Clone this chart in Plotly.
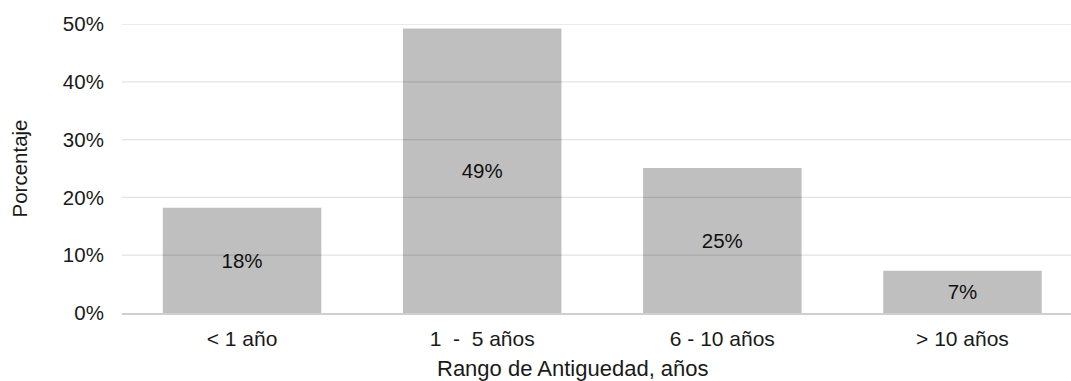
import plotly.graph_objects as go

# Distribución por rango de antigüedad
categorias = ["< 1 año", "1 \u00a0- \u00a05 años", "6 - 10 años", "> 10 años"]
porcentajes = [18.2, 49.2, 25.1, 7.3]
ticks_y = [0, 10, 20, 30, 40, 50]
ticks_y_texto = ["0%", "10%", "20%", "30%", "40%", "50%"]

FUENTE = "Arial, Liberation Sans, sans-serif"
TAM = 21
COLOR_TEXTO = "#1a1a1a"

fig = go.Figure(
    go.Bar(
        x=categorias,
        y=porcentajes,
        width=0.66,
        marker=dict(color="#bfbfbf", line=dict(width=0)),
        texttemplate="%{y:.0f}%",
        textposition="inside",
        insidetextanchor="middle",
        textangle=0,
        textfont=dict(family=FUENTE, size=20.5, color="#111111"),
        hoverinfo="skip",
    )
)

# Líneas de cuadrícula dibujadas sobre las barras
for v in ticks_y[1:]:
    fig.add_shape(
        type="line", xref="paper", yref="y",
        x0=0, x1=1, y0=v, y1=v,
        line=dict(color="rgba(0,0,0,0.11)", width=1.3),
        layer="above",
    )

fig.update_layout(
    width=1071,
    height=381,
    margin=dict(l=122, r=0, t=24, b=68),
    paper_bgcolor="white",
    plot_bgcolor="white",
    showlegend=False,
    font=dict(family=FUENTE, size=TAM, color=COLOR_TEXTO),
    xaxis=dict(
        type="category",
        range=[-0.5, 3.452],
        showgrid=False,
        showline=True,
        linecolor="#cfcfcf",
        linewidth=1.5,
        ticks="outside",
        ticklen=6,
        tickcolor="rgba(0,0,0,0)",
        tickfont=dict(family=FUENTE, size=TAM, color=COLOR_TEXTO),
        fixedrange=True,
    ),
    yaxis=dict(
        range=[0, 50],
        tickvals=ticks_y,
        ticktext=ticks_y_texto,
        showgrid=False,
        zeroline=False,
        ticks="outside",
        ticklen=13,
        tickcolor="rgba(0,0,0,0)",
        tickfont=dict(family=FUENTE, size=20.5, color=COLOR_TEXTO),
        fixedrange=True,
    ),
    annotations=[
        dict(
            text="Rango de Antiguedad, años",
            xref="paper", yref="paper",
            x=(573 - 122) / (1071 - 122), y=0,
            yshift=-55,
            xanchor="center", yanchor="middle",
            showarrow=False,
            font=dict(family=FUENTE, size=22, color=COLOR_TEXTO),
        ),
        dict(
            text="Porcentaje",
            xref="paper", yref="paper",
            x=0, y=0.5,
            xshift=-103,
            textangle=-90,
            xanchor="center", yanchor="middle",
            showarrow=False,
            font=dict(family=FUENTE, size=20.5, color=COLOR_TEXTO),
        ),
    ],
)

fig.write_html("out.html")
